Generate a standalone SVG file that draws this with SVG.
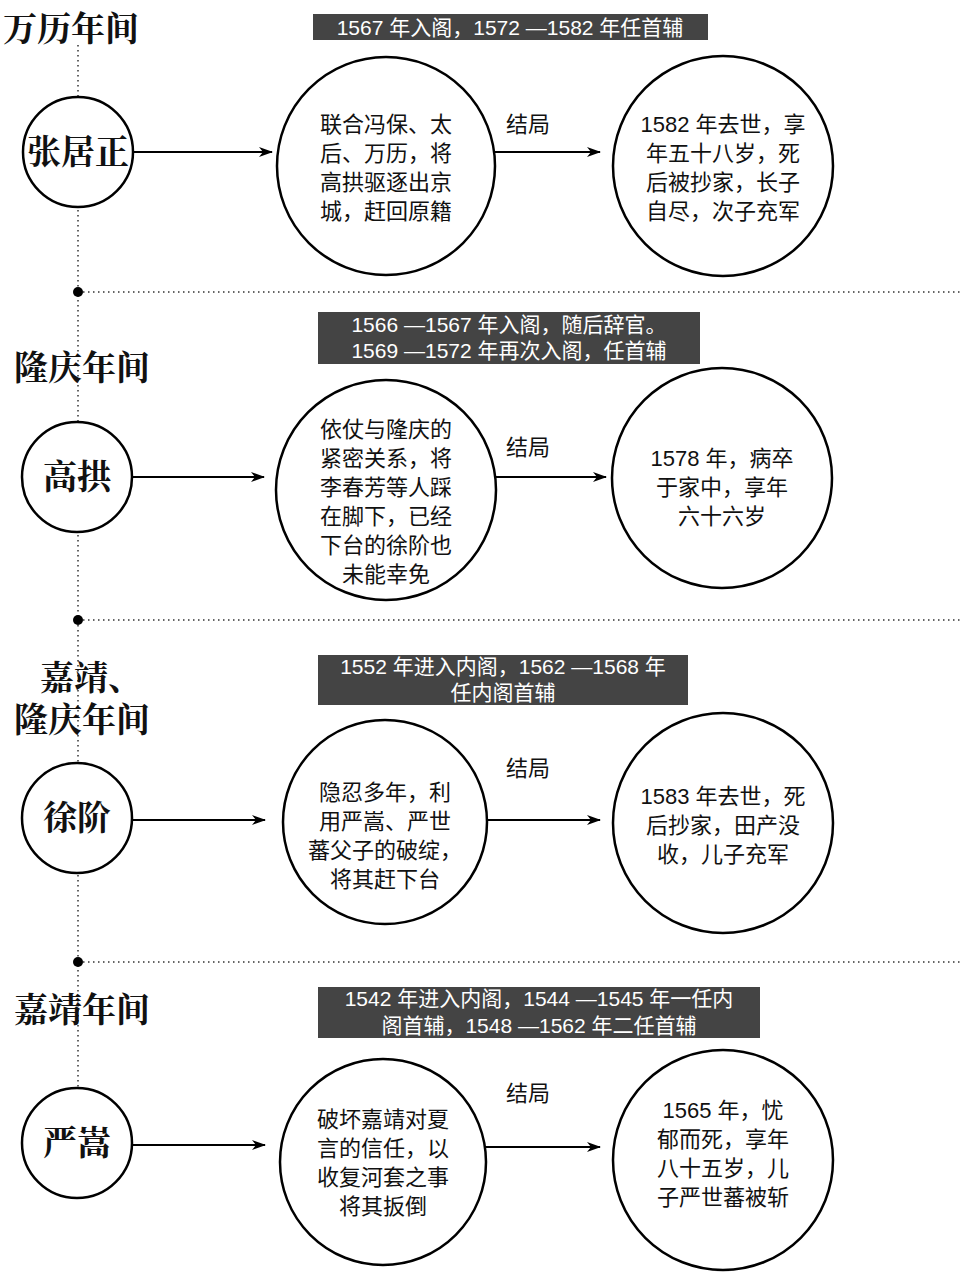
<svg xmlns="http://www.w3.org/2000/svg" width="965" height="1280" viewBox="0 0 965 1280">
<defs>
<marker id="ah" markerWidth="14" markerHeight="10" refX="13" refY="5" orient="auto" markerUnits="userSpaceOnUse"><path d="M0,0 L14,5 L0,10 L4,5 Z" fill="#000"/></marker>
<style>
.era{font-family:"Noto Serif CJK SC","Noto Sans CJK SC",serif;font-weight:bold;font-size:34px;fill:#111}
.name{font-family:"Noto Serif CJK SC","Noto Sans CJK SC",serif;font-weight:bold;font-size:34px;fill:#111;text-anchor:middle}
.t{font-family:"Liberation Sans","Noto Sans CJK SC",sans-serif;font-size:22px;fill:#111;text-anchor:middle}
.lb{font-family:"Liberation Sans","Noto Sans CJK SC",sans-serif;font-size:21px;fill:#fff;text-anchor:middle}
.c{fill:#fff;stroke:#000;stroke-width:2.5}
.a{stroke:#000;stroke-width:2;fill:none;marker-end:url(#ah)}
.d{stroke:#333;stroke-width:1.5;stroke-dasharray:1.5 3.5;fill:none}
.box{fill:#444}
</style>
</defs>
<rect width="965" height="1280" fill="#fff"/>
<g id="timeline">
<path class="d" d="M78,45 V1095"/>
<path class="d" d="M78,292 H960 M78,620 H960 M78,962 H960"/>
<circle cx="78" cy="292" r="5" fill="#000"/><circle cx="78" cy="620" r="5" fill="#000"/><circle cx="78" cy="962" r="5" fill="#000"/>
</g>
<g id="connectors">
<path class="a" d="M133,152 H272"/><path class="a" d="M494,152 H600"/>
<path class="a" d="M133,477 H264"/><path class="a" d="M496,477 H606"/>
<path class="a" d="M133,820 H265"/><path class="a" d="M487,820 H600"/>
<path class="a" d="M133,1145 H265"/><path class="a" d="M483,1147 H600"/>
<text class="t" x="528" y="132">结局</text><text class="t" x="528" y="455">结局</text>
<text class="t" x="528" y="776">结局</text><text class="t" x="528" y="1101">结局</text>
</g>
<g id="s1">
<text class="era" x="3" y="41">万历年间</text>
<rect class="box" x="313" y="14" width="395" height="26"/>
<text class="lb" x="510" y="35">1567 年入阁，1572 —1582 年任首辅</text>
<circle class="c" cx="78" cy="152" r="55"/><text class="name" x="78" y="164">张居正</text>
<circle class="c" cx="386" cy="166" r="109"/>
<text class="t" x="386" y="132">联合冯保、太</text><text class="t" x="386" y="161">后、万历，将</text><text class="t" x="386" y="190">高拱驱逐出京</text><text class="t" x="386" y="219">城，赶回原籍</text>
<circle class="c" cx="723" cy="166" r="110"/>
<text class="t" x="723" y="132">1582 年去世，享</text><text class="t" x="723" y="161">年五十八岁，死</text><text class="t" x="723" y="190">后被抄家，长子</text><text class="t" x="723" y="219">自尽，次子充军</text>
</g>
<g id="s2">
<text class="era" x="14" y="380">隆庆年间</text>
<rect class="box" x="318" y="312" width="382" height="52"/>
<text class="lb" x="509" y="332">1566 —1567 年入阁，随后辞官。</text><text class="lb" x="509" y="358">1569 —1572 年再次入阁，任首辅</text>
<circle class="c" cx="77" cy="477" r="55"/><text class="name" x="77" y="489">高拱</text>
<circle class="c" cx="386" cy="490" r="110"/>
<text class="t" x="386" y="437">依仗与隆庆的</text><text class="t" x="386" y="466">紧密关系，将</text><text class="t" x="386" y="495">李春芳等人踩</text><text class="t" x="386" y="524">在脚下，已经</text><text class="t" x="386" y="553">下台的徐阶也</text><text class="t" x="386" y="582">未能幸免</text>
<circle class="c" cx="722" cy="478" r="110"/>
<text class="t" x="722" y="466">1578 年，病卒</text><text class="t" x="722" y="495">于家中，享年</text><text class="t" x="722" y="524">六十六岁</text>
</g>
<g id="s3">
<text class="era" x="40" y="690">嘉靖、</text><text class="era" x="14" y="732">隆庆年间</text>
<rect class="box" x="318" y="655" width="370" height="50"/>
<text class="lb" x="503" y="674">1552 年进入内阁，1562 —1568 年</text><text class="lb" x="503" y="700">任内阁首辅</text>
<circle class="c" cx="77" cy="818" r="55"/><text class="name" x="77" y="830">徐阶</text>
<circle class="c" cx="385" cy="822" r="102"/>
<text class="t" x="385" y="800">隐忍多年，利</text><text class="t" x="385" y="829">用严嵩、严世</text><text class="t" x="385" y="858">蕃父子的破绽，</text><text class="t" x="385" y="887">将其赶下台</text>
<circle class="c" cx="723" cy="823" r="110"/>
<text class="t" x="723" y="804">1583 年去世，死</text><text class="t" x="723" y="833">后抄家，田产没</text><text class="t" x="723" y="862">收，儿子充军</text>
</g>
<g id="s4">
<text class="era" x="14" y="1022">嘉靖年间</text>
<rect class="box" x="318" y="987" width="442" height="51"/>
<text class="lb" x="539" y="1006">1542 年进入内阁，1544 —1545 年一任内</text><text class="lb" x="539" y="1033">阁首辅，1548 —1562 年二任首辅</text>
<circle class="c" cx="77" cy="1143" r="55"/><text class="name" x="77" y="1155">严嵩</text>
<circle class="c" cx="383" cy="1162" r="103"/>
<text class="t" x="383" y="1127">破坏嘉靖对夏</text><text class="t" x="383" y="1156">言的信任，以</text><text class="t" x="383" y="1185">收复河套之事</text><text class="t" x="383" y="1214">将其扳倒</text>
<circle class="c" cx="723" cy="1160" r="110"/>
<text class="t" x="723" y="1118">1565 年，忧</text><text class="t" x="723" y="1147">郁而死，享年</text><text class="t" x="723" y="1176">八十五岁，儿</text><text class="t" x="723" y="1205">子严世蕃被斩</text>
</g>
</svg>
